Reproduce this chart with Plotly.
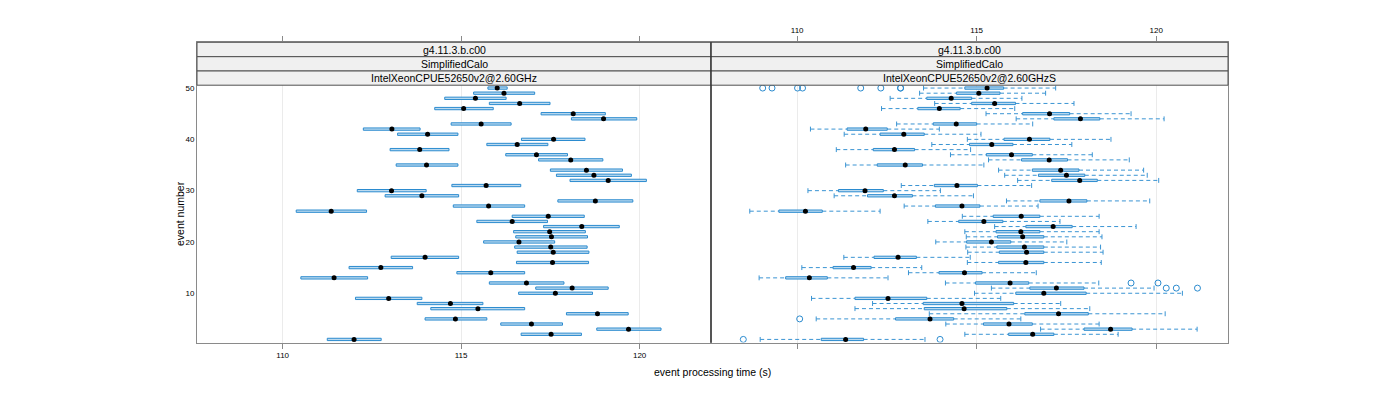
import plotly.graph_objects as go

# ---------------- data ----------------
events = list(range(1, 51))

# Left panel: IntelXeonCPUE52650v2@2.60GHz (box: q1, median, q3)
left_q1 = [111.25, 116.68, 118.80, 116.11, 113.99, 117.95, 114.15, 113.77, 112.04, 116.61,
           117.09, 115.79, 110.51, 114.88, 111.86, 116.55, 113.04, 116.57, 116.50, 115.63,
           116.53, 116.47, 117.31, 115.44, 116.43, 110.38, 114.78, 117.71, 112.87, 112.09,
           114.74, 118.05, 117.67, 117.50, 113.18, 117.17, 116.25, 113.01, 115.72, 116.69,
           113.22, 112.26, 114.72, 118.09, 117.24, 114.26, 115.79, 114.54, 115.35, 115.75]
left_med = [112.00, 117.52, 119.69, 116.97, 114.84, 118.82, 115.47, 114.70, 112.97, 117.64,
            118.11, 116.83, 111.44, 115.83, 112.75, 117.56, 113.99, 117.58, 117.51, 116.62,
            117.53, 117.48, 118.38, 116.43, 117.44, 111.36, 115.77, 118.76, 113.90, 113.05,
            115.70, 119.12, 118.72, 118.51, 114.03, 118.07, 117.11, 113.84, 116.57, 117.59,
            114.06, 113.06, 115.56, 118.99, 118.14, 115.07, 116.64, 115.40, 116.20, 116.01]
left_q3 = [112.76, 118.37, 120.60, 117.84, 115.72, 119.68, 116.78, 115.61, 113.90, 118.68,
           119.12, 117.88, 112.38, 116.78, 113.64, 118.57, 114.93, 118.58, 118.53, 117.62,
           118.54, 118.48, 119.43, 117.42, 118.45, 112.35, 116.78, 119.81, 114.93, 114.02,
           116.67, 120.19, 119.77, 119.52, 114.91, 118.97, 117.98, 114.66, 117.43, 118.47,
           114.91, 113.85, 116.40, 119.92, 119.04, 115.90, 117.49, 116.26, 117.06, 116.29]

# Right panel: IntelXeonCPUE52650v2@2.60GHzS (whisker low, q1, median, q3, whisker high)
right_wl = [108.97, 114.67, 116.78, 114.14, 110.53, 113.68, 111.61, 112.10, 110.40, 114.94,
            115.41, 114.13, 108.94, 113.10, 110.13, 114.74, 111.30, 114.75, 114.70, 113.86,
            114.71, 114.67, 115.50, 113.64, 114.60, 108.68, 112.98, 115.83, 111.03, 110.30,
            112.90, 116.14, 115.78, 115.61, 111.35, 115.33, 114.27, 111.09, 113.75, 114.74,
            111.31, 110.37, 112.77, 116.10, 115.26, 112.35, 113.83, 112.59, 113.41, 113.52]
right_q1 = [110.67, 115.89, 117.99, 115.19, 112.74, 116.34, 113.54, 113.51, 111.61, 116.09,
            116.48, 114.97, 109.68, 113.95, 111.00, 115.61, 112.14, 115.63, 115.56, 114.72,
            115.58, 115.54, 116.37, 114.50, 115.46, 109.49, 113.85, 116.76, 111.96, 111.15,
            113.82, 117.09, 116.72, 116.55, 112.23, 116.25, 115.27, 112.12, 114.80, 115.76,
            112.31, 111.39, 113.79, 117.15, 116.28, 113.36, 114.86, 113.61, 114.44, 114.67]
right_med = [111.35, 116.56, 118.73, 115.90, 113.70, 117.28, 114.65, 114.59, 112.53, 116.87,
             117.22, 115.93, 110.34, 114.66, 111.57, 116.37, 112.81, 116.39, 116.33, 115.41,
             116.28, 116.23, 117.13, 115.20, 116.24, 110.23, 114.59, 117.57, 112.71, 111.89,
             114.45, 117.87, 117.50, 117.34, 113.01, 117.02, 115.97, 112.71, 115.42, 116.47,
             112.97, 111.91, 114.43, 117.89, 117.03, 113.96, 115.50, 114.29, 115.06, 115.29]
right_q3 = [111.85, 117.15, 119.33, 116.55, 114.36, 118.11, 115.84, 116.03, 113.61, 118.05,
            117.99, 116.45, 110.84, 115.15, 112.06, 116.87, 113.32, 116.87, 116.87, 115.95,
            116.87, 116.76, 117.66, 115.73, 116.76, 110.70, 115.09, 118.07, 113.21, 112.40,
            115.02, 118.36, 118.01, 117.85, 113.49, 117.53, 116.55, 113.27, 116.01, 117.04,
            113.54, 112.51, 115.00, 118.43, 117.59, 114.54, 116.08, 114.86, 115.65, 115.75]
right_wu = [113.56, 118.94, 121.14, 118.41, 116.23, 120.25, 118.15, 117.34, 115.67, 120.73,
            119.94, 118.40, 112.53, 116.66, 113.47, 118.47, 114.82, 118.52, 118.45, 117.51,
            118.49, 118.41, 119.44, 117.32, 118.41, 112.31, 116.71, 119.82, 114.91, 113.99,
            116.53, 120.07, 119.75, 119.65, 115.20, 119.25, 118.22, 114.83, 117.65, 118.74,
            115.12, 113.96, 116.56, 120.22, 119.30, 116.06, 117.71, 116.26, 116.92, 117.20]

outlier_event = [50, 50, 50, 50, 50, 50, 50, 50, 12, 12, 11, 11, 11, 5, 1, 1]
outlier_value = [109.04, 109.30, 110.01, 110.15, 111.77, 112.33, 112.88, 112.88,
                 119.30, 120.05, 120.28, 120.56, 121.15, 110.07, 108.50, 113.98]

panel_labels = ["IntelXeonCPUE52650v2@2.60GHz", "IntelXeonCPUE52650v2@2.60GHzS"]
strip_top = "g4.11.3.b.c00"
strip_mid = "SimplifiedCalo"
x_ticks = [110, 115, 120]
y_ticks = [10, 20, 30, 40, 50]

# ---------------- style ----------------
W, H = 1400, 400
OFF = 8  # default page body margin
BOX_LINE = "#2b8bcf"
BOX_FILL = "#bcdaef"
WHISK = "#3a94d3"
AXIS = "#8a8a8a"
GRID = "#ebebeb"
FONT = "Liberation Sans"

XR = [107.6, 122.0]
YR = [0.4, 58.92]
px = lambda v: (v - OFF) / W
py = lambda v: 1 - (v - OFF) / H
left_dom = [px(197), px(711)]
right_dom = [px(711), px(1228)]
y_dom = [py(342.5), py(42.3)]

fig = go.Figure()


def add_boxes(q1, med, q3, xa, ya):
    fig.add_trace(go.Bar(
        orientation="h", y=events, x=[b - a for a, b in zip(q1, q3)], base=q1,
        width=0.45, marker=dict(color=BOX_FILL, line=dict(color=BOX_LINE, width=1)),
        xaxis=xa, yaxis=ya, showlegend=False, hoverinfo="skip"))
    fig.add_trace(go.Scatter(
        x=med, y=events, mode="markers",
        marker=dict(color="black", size=5),
        xaxis=xa, yaxis=ya, showlegend=False))


add_boxes(left_q1, left_med, left_q3, "x", "y")

# whiskers for right panel
wx, wy = [], []
for e, lo, a, b, hi in zip(events, right_wl, right_q1, right_q3, right_wu):
    wx += [lo, a, None, b, hi, None]
    wy += [e, e, None, e, e, None]
fig.add_trace(go.Scatter(x=wx, y=wy, mode="lines",
                         line=dict(color=WHISK, width=1, dash="4px,3px"),
                         xaxis="x2", yaxis="y2", showlegend=False))
fig.add_trace(go.Scatter(x=right_wl + right_wu, y=events + events, mode="markers",
                         marker=dict(symbol="line-ns", size=3.5, color=WHISK,
                                     line=dict(color=WHISK, width=1)),
                         xaxis="x2", yaxis="y2", showlegend=False))
add_boxes(right_q1, right_med, right_q3, "x2", "y2")
fig.add_trace(go.Scatter(x=outlier_value, y=outlier_event, mode="markers",
                         marker=dict(symbol="circle-open", size=6, color=BOX_LINE,
                                     line=dict(color=BOX_LINE, width=1)),
                         xaxis="x2", yaxis="y2", showlegend=False))

axis_common = dict(range=XR, tickvals=x_ticks, ticks="outside", ticklen=5,
                   tickcolor=AXIS, showline=True, linecolor=AXIS, linewidth=1,
                   mirror="ticks", showgrid=True, gridcolor=GRID, zeroline=False,
                   tickfont=dict(family=FONT, size=8, color="black"), fixedrange=True)
yaxis_common = dict(range=YR, domain=y_dom, tickvals=y_ticks, ticks="",
                    showline=True, linecolor=AXIS, linewidth=1, mirror=True,
                    showgrid=False, zeroline=False,
                    tickfont=dict(family=FONT, size=8, color="black"))

fig.update_layout(
    width=W, height=H, margin=dict(l=0, r=0, t=0, b=0),
    paper_bgcolor="white", plot_bgcolor="white", barmode="overlay",
    showlegend=False,
    xaxis=dict(domain=left_dom, anchor="y", side="bottom", **axis_common),
    xaxis2=dict(domain=right_dom, anchor="y2", side="top", **axis_common),
    yaxis=dict(anchor="x", **yaxis_common),
    yaxis2=dict(anchor="x2", matches="y", showticklabels=False,
                **{k: v for k, v in yaxis_common.items() if k != "tickfont"}),
)

# strips
strip_edges = [42.3, 56.7, 71.0, 85.2]
shapes, annots = [], []
for dom, lab in zip([left_dom, right_dom], panel_labels):
    texts = [strip_top, strip_mid, lab]
    for i in range(3):
        shapes.append(dict(type="rect", xref="paper", yref="paper",
                           x0=dom[0], x1=dom[1], y0=py(strip_edges[i + 1]), y1=py(strip_edges[i]),
                           fillcolor="#f0f0f0", line=dict(color="#505050", width=1),
                           layer="above"))
        annots.append(dict(xref="paper", yref="paper", x=(dom[0] + dom[1]) / 2,
                           y=py((strip_edges[i] + strip_edges[i + 1]) / 2),
                           text=texts[i], showarrow=False, xanchor="center", yanchor="middle",
                           font=dict(family=FONT, size=10.5, color="black")))
# panel divider
shapes.append(dict(type="line", xref="paper", yref="paper", x0=px(711), x1=px(711),
                   y0=py(342.5), y1=py(42.3), line=dict(color="#202020", width=1), layer="above"))

annots.append(dict(xref="paper", yref="paper", x=px(712.5), y=py(380),
                   text="event processing time (s)", showarrow=False,
                   font=dict(family=FONT, size=10.5, color="black")))
annots.append(dict(xref="paper", yref="paper", x=px(172), y=py(214),
                   text="event number", showarrow=False, textangle=-90,
                   font=dict(family=FONT, size=10.5, color="black")))

fig.update_layout(shapes=shapes, annotations=annots)

fig.write_html("out.html")
